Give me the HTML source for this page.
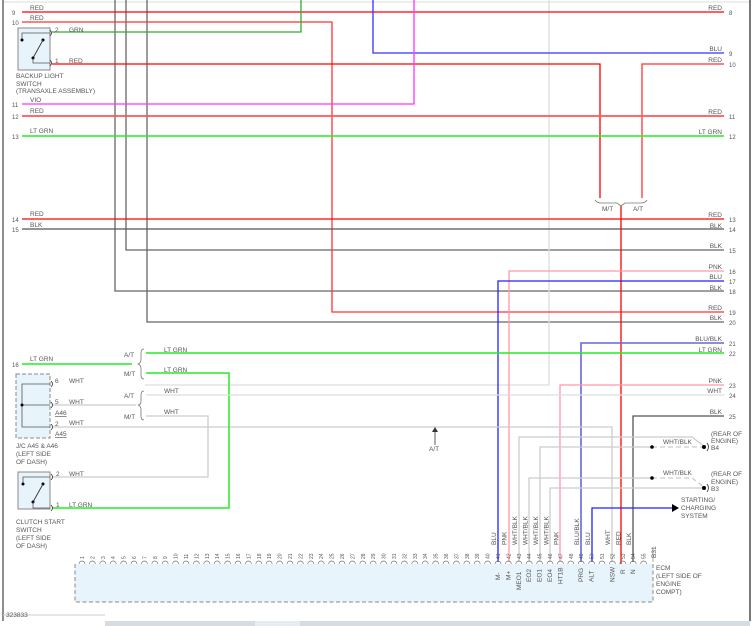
<!DOCTYPE html>
<html><head><meta charset="utf-8"><style>
html,body{margin:0;padding:0;background:#fff;}
svg{display:block;}
text{font-family:"Liberation Sans",sans-serif;font-size:6.5px;fill:#555;}
.n{font-size:6px;}
.p{font-size:5px;}
</style></head><body>
<svg width="755" height="626" viewBox="0 0 755 626" xmlns="http://www.w3.org/2000/svg">
<!-- frame -->
<line x1="3" y1="2" x2="750" y2="2" stroke="#ddd" stroke-width="1"/>
<line x1="3" y1="0" x2="3" y2="621" stroke="#444" stroke-width="1.2"/>
<line x1="750" y1="0" x2="750" y2="621" stroke="#222" stroke-width="1.2"/>
<rect x="105" y="621" width="645" height="5" fill="#d5dde3"/>
<rect x="255" y="621" width="45" height="5" fill="#e6ecef"/>
<line x1="3" y1="615" x2="105" y2="615" stroke="#ccc" stroke-width="1"/>
<text x="6" y="617">323833</text>

<!-- vertical gray/black lines from top -->
<polyline points="115,0 115,291 724,291" fill="none" stroke="#666" stroke-width="1.3"/>
<polyline points="126,0 126,250 724,250" fill="none" stroke="#666" stroke-width="1.3"/>
<polyline points="147,0 147,322 724,322" fill="none" stroke="#666" stroke-width="1.3"/>
<polyline points="549,0 549,385 145,385" fill="none" stroke="#ddd" stroke-width="1.3"/>

<!-- top wires -->
<line x1="22" y1="12" x2="724" y2="12" stroke="#f00" stroke-width="1.3"/>
<polyline points="22,22 332,22 332,312 724,312" fill="none" stroke="#f33" stroke-width="1.3"/>
<polyline points="52,32 301,32 301,0" fill="none" stroke="#3a3" stroke-width="1.3"/>
<polyline points="373,0 373,53 724,53" fill="none" stroke="#33f" stroke-width="1.3"/>
<polyline points="52,64 600,64 600,198" fill="none" stroke="#f00" stroke-width="1.3"/>
<polyline points="724,64 642,64 642,198" fill="none" stroke="#f33" stroke-width="1.3"/>
<polyline points="22,104 414,104 414,0" fill="none" stroke="#f3f" stroke-width="1.3"/>
<line x1="22" y1="116" x2="724" y2="116" stroke="#f55" stroke-width="1.8"/>
<line x1="22" y1="136" x2="724" y2="136" stroke="#2e2" stroke-width="1.5"/>
<line x1="22" y1="219" x2="724" y2="219" stroke="#f00" stroke-width="1.3"/>
<line x1="22" y1="229" x2="724" y2="229" stroke="#555" stroke-width="1.3"/>

<!-- brace M/T A/T -->
<path d="M595,200 q2,3 6,3 h16 l4,3 l4,-3 h16 q4,0 6,-3" fill="none" stroke="#777" stroke-width="0.8"/>
<text x="602" y="211">M/T</text><text x="633" y="211">A/T</text>
<line x1="621" y1="206" x2="621" y2="564" stroke="#f00" stroke-width="1.3"/>

<!-- wires to ECM -->
<polyline points="724,271 509,271 509,562" fill="none" stroke="#f9a" stroke-width="1.3"/>
<polyline points="724,281 498,281 498,562" fill="none" stroke="#22f" stroke-width="1.3"/>
<polyline points="724,343 581,343 581,562" fill="none" stroke="#66d" stroke-width="1.6"/>
<polyline points="724,385 560,385 560,562" fill="none" stroke="#f9a" stroke-width="1.3"/>
<polyline points="724,416 633,416 633,562" fill="none" stroke="#555" stroke-width="1.3"/>
<polyline points="52,427 612,427 612,562" fill="none" stroke="#ccc" stroke-width="1.3"/>
<polyline points="519,562 519,437 692,437 705,447" fill="none" stroke="#ccc" stroke-width="1.3"/>
<polyline points="540,562 540,447 652,447" fill="none" stroke="#ccc" stroke-width="1.3"/>
<line x1="652" y1="447" x2="703" y2="447" stroke="#ccc" stroke-width="1.3" stroke-dasharray="5,3"/>
<polyline points="529,562 529,478 652,478" fill="none" stroke="#ccc" stroke-width="1.3"/>
<polyline points="652,478 692,478 704,487" fill="none" stroke="#ccc" stroke-width="1.3" stroke-dasharray="5,3"/>
<polyline points="550,562 550,488 705,488" fill="none" stroke="#ccc" stroke-width="1.3"/>
<circle cx="652" cy="447" r="1.8" fill="#000"/><circle cx="652" cy="478" r="1.8" fill="#000"/>
<circle cx="704" cy="447" r="2" fill="#000"/><circle cx="704" cy="488" r="2" fill="#000"/>
<path d="M707,443 q3,4 0,8 M707,484 q3,4 0,8" fill="none" stroke="#333" stroke-width="0.8"/>
<text x="663" y="444">WHT/BLK</text><text x="663" y="475">WHT/BLK</text>
<text x="711" y="436">(REAR OF</text><text x="711" y="443">ENGINE)</text><text x="711" y="450">B4</text>
<text x="711" y="476">(REAR OF</text><text x="711" y="484">ENGINE)</text><text x="711" y="491">B3</text>
<polyline points="592,562 592,508 672,508" fill="none" stroke="#22f" stroke-width="1.3"/>
<polygon points="672,504 679,508 672,512" fill="#000"/>
<text x="681" y="502">STARTING/</text><text x="681" y="510">CHARGING</text><text x="681" y="518">SYSTEM</text>

<!-- A/T arrow -->
<line x1="435" y1="445" x2="435" y2="429" stroke="#333" stroke-width="0.8"/>
<polygon points="432,432 435,427 438,432" fill="#333"/>
<text x="429" y="451">A/T</text>

<!-- left lower area -->
<line x1="22" y1="364" x2="132" y2="364" stroke="#2e2" stroke-width="1.5"/>
<line x1="146" y1="353" x2="724" y2="353" stroke="#2e2" stroke-width="1.5"/>
<polyline points="146,373 229,373 229,508 52,508" fill="none" stroke="#2e2" stroke-width="1.5"/>
<line x1="52" y1="405" x2="136" y2="405" stroke="#ccc" stroke-width="1.3"/>
<line x1="146" y1="395" x2="724" y2="395" stroke="#ddd" stroke-width="1.3"/>
<polyline points="146,416 208,416 208,477 52,477" fill="none" stroke="#ccc" stroke-width="1.3"/>
<path d="M144,349 q-3,0 -3,4 v6 q0,4 -3,5 q3,1 3,5 v6 q0,4 3,4" fill="none" stroke="#777" stroke-width="0.8"/>
<path d="M144,391 q-3,0 -3,4 v6 q0,4 -3,4 q3,1 3,5 v6 q0,4 3,4" fill="none" stroke="#777" stroke-width="0.8"/>
<text x="124" y="357">A/T</text><text x="124" y="376">M/T</text>
<text x="124" y="398">A/T</text><text x="124" y="419">M/T</text>
<text x="30" y="361">LT GRN</text>
<text x="164" y="352">LT GRN</text><text x="164" y="372">LT GRN</text>
<text x="164" y="393">WHT</text><text x="164" y="414">WHT</text>
<text x="12" y="367" class="n">16</text>

<!-- JC box -->
<rect x="16" y="374" width="34" height="64" fill="#e8f4fb" stroke="#888" stroke-width="1" stroke-dasharray="4,2"/>
<polyline points="50,384 22,384 22,427 50,427" fill="none" stroke="#555" stroke-width="0.8"/>
<line x1="22" y1="405" x2="50" y2="405" stroke="#555" stroke-width="0.8"/>
<circle cx="22" cy="405" r="1.5" fill="#000"/>
<path d="M51,381 q3,3 0,6 M51,402 q3,3 0,6 M51,424 q3,3 0,6" fill="none" stroke="#333" stroke-width="0.8"/>
<text x="55" y="383">6</text><text x="55" y="404">5</text><text x="55" y="426">2</text>
<text x="69" y="383">WHT</text><text x="69" y="404">WHT</text><text x="69" y="425">WHT</text>
<text x="55" y="415" text-decoration="underline">A46</text><text x="55" y="436" text-decoration="underline">A45</text>
<text x="16" y="448">J/C A45 &amp; A46</text><text x="16" y="456">(LEFT SIDE</text><text x="16" y="464">OF DASH)</text>

<!-- clutch switch -->
<rect x="18" y="472" width="32" height="37" fill="#e8f4fb" stroke="#888" stroke-width="1"/>
<polyline points="50,477 23,477 23,484" fill="none" stroke="#555" stroke-width="0.8"/>
<circle cx="23" cy="484" r="1.5" fill="#000"/><circle cx="43" cy="484" r="1.5" fill="#000"/>
<line x1="43" y1="484" x2="33" y2="502" stroke="#333" stroke-width="0.9"/>
<circle cx="33" cy="502" r="1.5" fill="#000"/>
<polyline points="33,502 33,508 50,508" fill="none" stroke="#555" stroke-width="0.8"/>
<path d="M51,474 q3,3 0,6 M51,505 q3,3 0,6" fill="none" stroke="#333" stroke-width="0.8"/>
<text x="56" y="476">2</text><text x="56" y="507">1</text>
<text x="69" y="476">WHT</text><text x="69" y="507">LT GRN</text>
<text x="16" y="524">CLUTCH START</text><text x="16" y="532">SWITCH</text><text x="16" y="540">(LEFT SIDE</text><text x="16" y="548">OF DASH)</text>

<!-- backup switch -->
<rect x="18" y="28" width="32" height="42" fill="#e8f4fb" stroke="#888" stroke-width="1"/>
<polyline points="50,33 22,33 22,40" fill="none" stroke="#555" stroke-width="0.8"/>
<circle cx="22" cy="40" r="1.5" fill="#000"/><circle cx="43" cy="40" r="1.5" fill="#000"/>
<line x1="43" y1="40" x2="33" y2="58" stroke="#333" stroke-width="0.9"/>
<circle cx="33" cy="58" r="1.5" fill="#000"/>
<polyline points="33,58 33,63 50,63" fill="none" stroke="#555" stroke-width="0.8"/>
<path d="M50,30 q3,3 0,6 M50,60 q3,3 0,6" fill="none" stroke="#333" stroke-width="0.8"/>
<text x="55" y="32">2</text><text x="55" y="63">1</text>
<text x="69" y="32">GRN</text><text x="69" y="63">RED</text>
<text x="16" y="78">BACKUP LIGHT</text><text x="16" y="86">SWITCH</text><text x="16" y="93">(TRANSAXLE ASSEMBLY)</text>

<!-- left labels -->
<text x="12" y="15" class="n">9</text><text x="12" y="25" class="n">10</text><text x="12" y="107" class="n">11</text>
<text x="12" y="119" class="n">12</text><text x="12" y="139" class="n">13</text><text x="12" y="222" class="n">14</text><text x="12" y="232" class="n">15</text>
<text x="30" y="10">RED</text><text x="30" y="20">RED</text><text x="30" y="102">VIO</text><text x="30" y="113">RED</text>
<text x="30" y="133">LT GRN</text><text x="30" y="216">RED</text><text x="30" y="227">BLK</text>

<!-- right labels -->
<g text-anchor="end">
<text x="722" y="10">RED</text><text x="722" y="51">BLU</text><text x="722" y="62">RED</text><text x="722" y="114">RED</text>
<text x="722" y="134">LT GRN</text><text x="722" y="217">RED</text><text x="722" y="228">BLK</text><text x="722" y="248">BLK</text>
<text x="722" y="269">PNK</text><text x="722" y="279">BLU</text><text x="722" y="290">BLK</text><text x="722" y="310">RED</text>
<text x="722" y="320">BLK</text><text x="722" y="341">BLU/BLK</text><text x="722" y="352">LT GRN</text><text x="722" y="383">PNK</text>
<text x="722" y="393">WHT</text><text x="722" y="414">BLK</text>
</g>
<g class="n">
<text x="729" y="15" class="n">8</text><text x="729" y="56" class="n">9</text><text x="729" y="67" class="n">10</text>
<text x="729" y="119" class="n">11</text><text x="729" y="139" class="n">12</text><text x="729" y="222" class="n">13</text>
<text x="729" y="232" class="n">14</text><text x="729" y="253" class="n">15</text><text x="729" y="274" class="n">16</text>
<text x="729" y="284" class="n">17</text><text x="729" y="294" class="n">18</text><text x="729" y="315" class="n">19</text>
<text x="729" y="325" class="n">20</text><text x="729" y="346" class="n">21</text><text x="729" y="356" class="n">22</text>
<text x="729" y="388" class="n">23</text><text x="729" y="398" class="n">24</text><text x="729" y="419" class="n">25</text>
</g>

<!-- ECM -->
<rect x="75" y="564" width="578" height="38" fill="#e8f4fb"/>
<path d="M75,564 V602 H653 V564" fill="none" stroke="#888" stroke-width="1" stroke-dasharray="4,2.5"/>
<g fill="none" stroke="#777" stroke-width="0.7" id="arcs">
<path d="M79,564 a3,3 0 0 1 6,0 M89.4,564 a3,3 0 0 1 6,0 M99.8,564 a3,3 0 0 1 6,0 M110.2,564 a3,3 0 0 1 6,0 M120.6,564 a3,3 0 0 1 6,0 M131,564 a3,3 0 0 1 6,0 M141.4,564 a3,3 0 0 1 6,0 M151.8,564 a3,3 0 0 1 6,0 M162.2,564 a3,3 0 0 1 6,0 M172.6,564 a3,3 0 0 1 6,0 M183,564 a3,3 0 0 1 6,0 M193.4,564 a3,3 0 0 1 6,0 M203.8,564 a3,3 0 0 1 6,0 M214.2,564 a3,3 0 0 1 6,0 M224.6,564 a3,3 0 0 1 6,0 M235,564 a3,3 0 0 1 6,0 M245.4,564 a3,3 0 0 1 6,0 M255.8,564 a3,3 0 0 1 6,0 M266.2,564 a3,3 0 0 1 6,0 M276.6,564 a3,3 0 0 1 6,0 M287,564 a3,3 0 0 1 6,0 M297.4,564 a3,3 0 0 1 6,0 M307.8,564 a3,3 0 0 1 6,0 M318.2,564 a3,3 0 0 1 6,0 M328.6,564 a3,3 0 0 1 6,0 M339,564 a3,3 0 0 1 6,0 M349.4,564 a3,3 0 0 1 6,0 M359.8,564 a3,3 0 0 1 6,0 M370.2,564 a3,3 0 0 1 6,0 M380.6,564 a3,3 0 0 1 6,0 M391,564 a3,3 0 0 1 6,0 M401.4,564 a3,3 0 0 1 6,0 M411.8,564 a3,3 0 0 1 6,0 M422.2,564 a3,3 0 0 1 6,0 M432.6,564 a3,3 0 0 1 6,0 M443,564 a3,3 0 0 1 6,0 M453.4,564 a3,3 0 0 1 6,0 M463.8,564 a3,3 0 0 1 6,0 M474.2,564 a3,3 0 0 1 6,0 M484.6,564 a3,3 0 0 1 6,0 M495,564 a3,3 0 0 1 6,0 M505.4,564 a3,3 0 0 1 6,0 M515.8,564 a3,3 0 0 1 6,0 M526.2,564 a3,3 0 0 1 6,0 M536.6,564 a3,3 0 0 1 6,0 M547,564 a3,3 0 0 1 6,0 M557.4,564 a3,3 0 0 1 6,0 M567.8,564 a3,3 0 0 1 6,0 M578.2,564 a3,3 0 0 1 6,0 M588.6,564 a3,3 0 0 1 6,0 M599,564 a3,3 0 0 1 6,0 M609.4,564 a3,3 0 0 1 6,0 M619.8,564 a3,3 0 0 1 6,0 M630.2,564 a3,3 0 0 1 6,0 M640.6,564 a3,3 0 0 1 6,0"/>
</g>
<g class="p">
<text class="p" transform="translate(84,559) rotate(-90)">1</text><text class="p" transform="translate(94.4,559) rotate(-90)">2</text><text class="p" transform="translate(104.8,559) rotate(-90)">3</text><text class="p" transform="translate(115.2,559) rotate(-90)">4</text><text class="p" transform="translate(125.6,559) rotate(-90)">5</text><text class="p" transform="translate(136,559) rotate(-90)">6</text><text class="p" transform="translate(146.4,559) rotate(-90)">7</text><text class="p" transform="translate(156.8,559) rotate(-90)">8</text><text class="p" transform="translate(167.2,559) rotate(-90)">9</text><text class="p" transform="translate(177.6,559) rotate(-90)">10</text>
<text class="p" transform="translate(188,559) rotate(-90)">11</text><text class="p" transform="translate(198.4,559) rotate(-90)">12</text><text class="p" transform="translate(208.8,559) rotate(-90)">13</text><text class="p" transform="translate(219.2,559) rotate(-90)">14</text><text class="p" transform="translate(229.6,559) rotate(-90)">15</text><text class="p" transform="translate(240,559) rotate(-90)">16</text><text class="p" transform="translate(250.4,559) rotate(-90)">17</text><text class="p" transform="translate(260.8,559) rotate(-90)">18</text><text class="p" transform="translate(271.2,559) rotate(-90)">19</text><text class="p" transform="translate(281.6,559) rotate(-90)">20</text>
<text class="p" transform="translate(292,559) rotate(-90)">21</text><text class="p" transform="translate(302.4,559) rotate(-90)">22</text><text class="p" transform="translate(312.8,559) rotate(-90)">23</text><text class="p" transform="translate(323.2,559) rotate(-90)">24</text><text class="p" transform="translate(333.6,559) rotate(-90)">25</text><text class="p" transform="translate(344,559) rotate(-90)">26</text><text class="p" transform="translate(354.4,559) rotate(-90)">27</text><text class="p" transform="translate(364.8,559) rotate(-90)">28</text><text class="p" transform="translate(375.2,559) rotate(-90)">29</text><text class="p" transform="translate(385.6,559) rotate(-90)">30</text>
<text class="p" transform="translate(396,559) rotate(-90)">31</text><text class="p" transform="translate(406.4,559) rotate(-90)">32</text><text class="p" transform="translate(416.8,559) rotate(-90)">33</text><text class="p" transform="translate(427.2,559) rotate(-90)">34</text><text class="p" transform="translate(437.6,559) rotate(-90)">35</text><text class="p" transform="translate(448,559) rotate(-90)">36</text><text class="p" transform="translate(458.4,559) rotate(-90)">37</text><text class="p" transform="translate(468.8,559) rotate(-90)">38</text><text class="p" transform="translate(479.2,559) rotate(-90)">39</text><text class="p" transform="translate(489.6,559) rotate(-90)">40</text>
<text class="p" transform="translate(500,559) rotate(-90)">41</text><text class="p" transform="translate(510.4,559) rotate(-90)">42</text><text class="p" transform="translate(520.8,559) rotate(-90)">43</text><text class="p" transform="translate(531.2,559) rotate(-90)">44</text><text class="p" transform="translate(541.6,559) rotate(-90)">45</text><text class="p" transform="translate(552,559) rotate(-90)">46</text><text class="p" transform="translate(562.4,559) rotate(-90)">47</text><text class="p" transform="translate(572.8,559) rotate(-90)">48</text><text class="p" transform="translate(583.2,559) rotate(-90)">49</text><text class="p" transform="translate(593.6,559) rotate(-90)">50</text>
<text class="p" transform="translate(604,559) rotate(-90)">51</text><text class="p" transform="translate(614.4,559) rotate(-90)">52</text><text class="p" transform="translate(624.8,559) rotate(-90)">53</text><text class="p" transform="translate(635.2,559) rotate(-90)">54</text><text class="p" transform="translate(645.6,559) rotate(-90)">55</text>
</g>
<!-- wire labels near ECM -->
<g>
<text transform="translate(496,545) rotate(-90)">BLU</text><text transform="translate(506.5,545) rotate(-90)">PNK</text>
<text transform="translate(517,545) rotate(-90)">WHT/BLK</text><text transform="translate(527.5,545) rotate(-90)">WHT/BLK</text>
<text transform="translate(538,545) rotate(-90)">WHT/BLK</text><text transform="translate(548.5,545) rotate(-90)">WHT/BLK</text>
<text transform="translate(558.5,545) rotate(-90)">PNK</text><text transform="translate(579,545) rotate(-90)">BLU/BLK</text>
<text transform="translate(590,545) rotate(-90)">BLU</text><text transform="translate(610,545) rotate(-90)">WHT</text>
<text transform="translate(620.5,545) rotate(-90)">RED</text><text transform="translate(631,545) rotate(-90)">BLK</text>
</g>
<g>
<text transform="translate(500,580) rotate(-90)">M-</text><text transform="translate(510.4,580) rotate(-90)">M+</text>
<text transform="translate(520.8,590) rotate(-90)">MEO1</text><text transform="translate(531.2,582) rotate(-90)">EO2</text>
<text transform="translate(541.6,582) rotate(-90)">EO1</text><text transform="translate(552,582) rotate(-90)">EO4</text>
<text transform="translate(562.4,584) rotate(-90)">HT1B</text><text transform="translate(583.2,582) rotate(-90)">PRG</text>
<text transform="translate(593.6,582) rotate(-90)">ALT</text><text transform="translate(614.4,582) rotate(-90)">NSW</text>
<text transform="translate(624.8,574) rotate(-90)">R</text><text transform="translate(635.2,574) rotate(-90)">N</text>
</g>
<text transform="translate(656,558) rotate(-90)">B31</text>
<line x1="653" y1="548" x2="653" y2="562" stroke="#777" stroke-width="0.6"/>
<text x="656" y="570">ECM</text><text x="656" y="578">(LEFT SIDE OF</text><text x="656" y="586">ENGINE</text><text x="656" y="594">COMPT)</text>
</svg>
</body></html>
